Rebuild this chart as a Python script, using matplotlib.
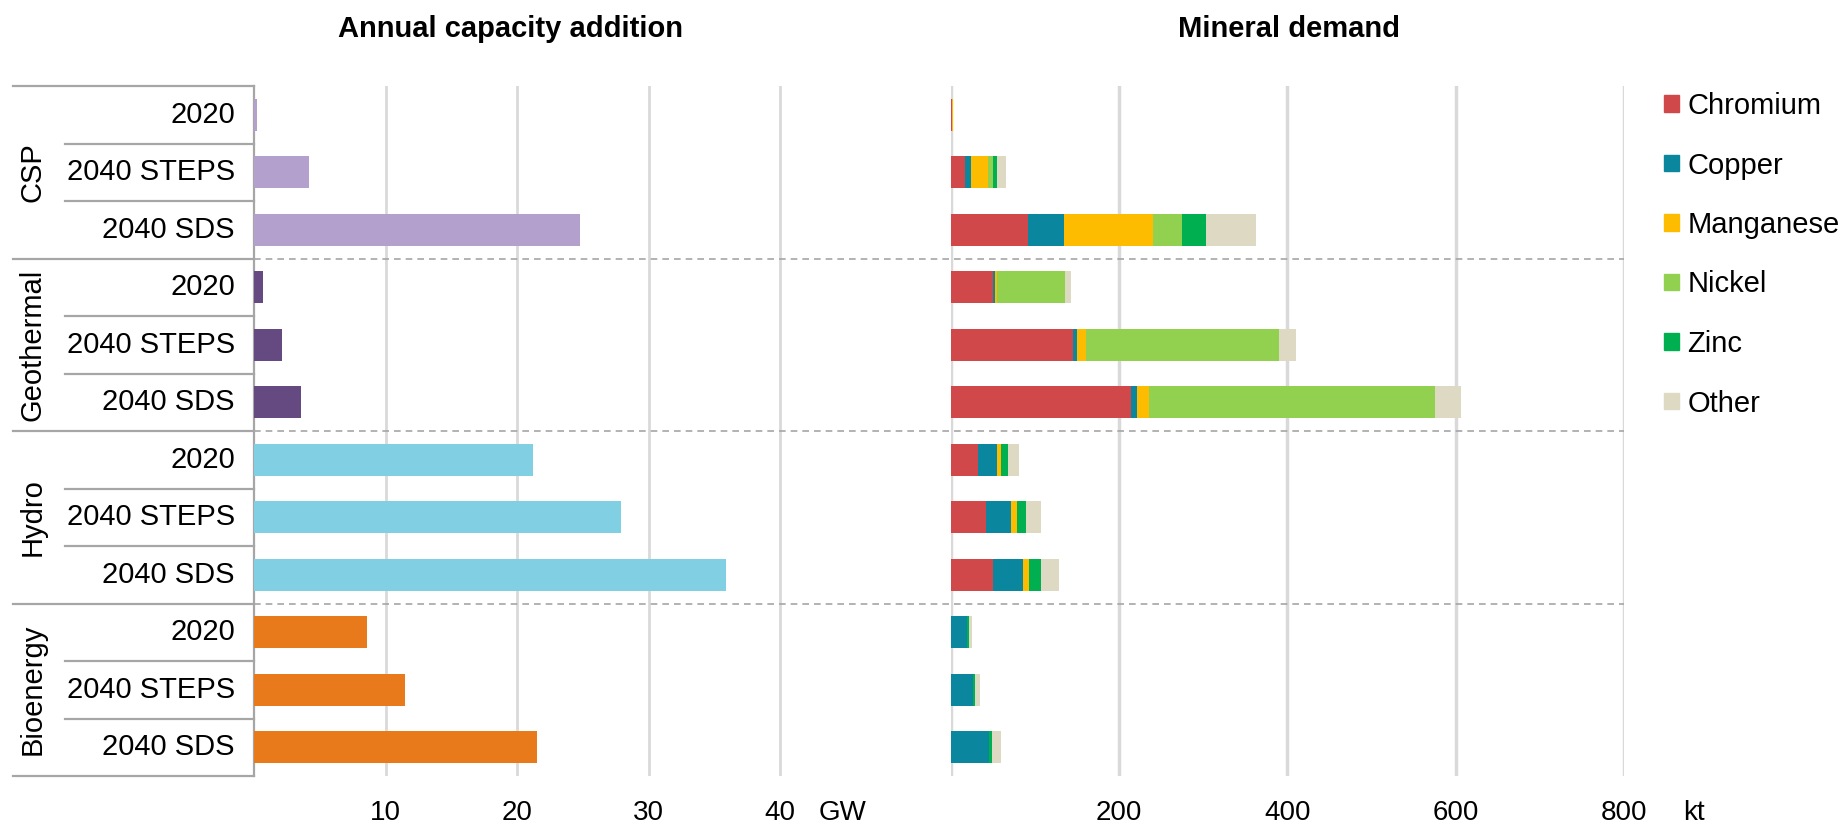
import numpy as np
import matplotlib.pyplot as plt
import matplotlib.transforms as mtransforms
from matplotlib.lines import Line2D
from matplotlib.patches import Patch

plt.rcParams['font.family'] = ['Liberation Sans', 'DejaVu Sans']

# data
groups = ["CSP", "Geothermal", "Hydro", "Bioenergy"]
cases = ["2020", "2040 STEPS", "2040 SDS"]
group_colors = ["#b3a0cc", "#654a82", "#80cfe2", "#e87a1c"]

capacity = [0.2, 4.2, 24.8,
            0.7, 2.1, 3.6,
            21.2, 27.9, 35.9,
            8.6, 11.5, 21.5]

minerals = ["Chromium", "Copper", "Manganese", "Nickel", "Zinc", "Other"]
mineral_colors = ["#d1484b", "#0a879e", "#fdbc00", "#92d050", "#00b050", "#ddd9c3"]
chromium = [1, 17, 92, 50, 145, 214, 32.5, 42.4, 50.7, 0, 0, 0]
copper = [0.5, 7.5, 42.4, 2.5, 5, 7.2, 22, 29.3, 34.9, 19.4, 26.5, 46]
manganese = [1.2, 19.8, 105.8, 3, 10.6, 14.8, 4.8, 6.7, 7.9, 0, 0, 0]
nickel = [0, 6, 34.5, 80, 230, 340, 0, 0, 0, 0, 0, 0]
zinc = [0, 5, 28.5, 0, 0, 0, 8.3, 10.7, 13.5, 2, 2, 3.2]
other = [0, 11, 59.4, 7.6, 20, 30, 13.9, 18.6, 21.8, 4.4, 5.9, 10.7]

gw_ticks = [10, 20, 30, 40]
kt_ticks = [200, 400, 600, 800]

W, H = 1843, 827
fig = plt.figure(figsize=(W / 100, H / 100), dpi=100)
ax1 = fig.add_axes([254 / W, 51 / H, 657.5 / W, 690 / H])
ax2 = fig.add_axes([950.7 / W, 51 / H, 673.3 / W, 690 / H])

rows = np.arange(len(capacity))
row_colors = [c for c in group_colors for _ in cases]
grid_c = "#d9d9d9"
line_c = "#a6a6a6"

ax1.barh(rows, capacity, height=0.55, color=row_colors, zorder=3)
ax1.set_xlim(0, 50)
for v in gw_ticks:
    ax1.axvline(v, color=grid_c, lw=2, zorder=0)

left = np.zeros(len(rows))
for name, vals, col in zip(minerals, [chromium, copper, manganese, nickel, zinc, other], mineral_colors):
    ax2.barh(rows, vals, left=left, height=0.55, color=col, zorder=3)
    left += np.array(vals)
ax2.set_xlim(0, 800)
for v in [0] + kt_ticks:
    ax2.axvline(v, color=grid_c, lw=2.5, zorder=0)

for ax in (ax1, ax2):
    ax.set_ylim(11.5, -0.5)
    ax.set_xticks([])
    ax.set_yticks([])
    for s in ax.spines.values():
        s.set_visible(False)
ax1.spines['left'].set_visible(True)
ax1.spines['left'].set_color(line_c)
ax1.spines['left'].set_linewidth(1.6)

# tick labels
lab_y = -37 / 690
for v in gw_ticks:
    ax1.text(v, lab_y, str(v), transform=ax1.get_xaxis_transform(), ha='center', va='center', fontsize=20)
ax1.text(44.75, lab_y, "GW", transform=ax1.get_xaxis_transform(), ha='center', va='center', fontsize=20)
for v in kt_ticks:
    ax2.text(v, lab_y, str(v), transform=ax2.get_xaxis_transform(), ha='center', va='center', fontsize=20)
ax2.text(883, lab_y, "kt", transform=ax2.get_xaxis_transform(), ha='center', va='center', fontsize=20)

# table on the left
trans = mtransforms.blended_transform_factory(fig.transFigure, ax1.transData)
n = len(cases)
for i in range(len(rows) + 1):
    y = i - 0.5
    x0 = 13 / W if i % n == 0 else 65 / W
    fig.add_artist(Line2D([x0, 254 / W], [y, y], transform=trans, color=line_c, lw=1.6))
for g in range(1, len(groups)):
    y = g * n - 0.5
    fig.add_artist(Line2D([254 / W, 1624 / W], [y, y], transform=trans, color=line_c, lw=1.2,
                          dashes=(4, 3)))
for i, r in enumerate(rows):
    fig.text(235 / W, r, cases[i % n], transform=trans, ha='right', va='center', fontsize=21)
for g, name in enumerate(groups):
    fig.text(33 / W, g * n + 1, name, transform=trans, ha='center', va='center', rotation=90, fontsize=21)

fig.text(510 / W, 1 - 29 / H, "Annual capacity addition", ha='center', va='center', fontsize=21, fontweight='bold')
fig.text(1289 / W, 1 - 29 / H, "Mineral demand", ha='center', va='center', fontsize=21, fontweight='bold')

handles = [Patch(color=c, label=m) for m, c in zip(minerals, mineral_colors)]
fig.legend(handles=handles, loc='upper left', bbox_to_anchor=(1664 / W, 1 - 92 / H), frameon=False,
           fontsize=21, handlelength=0.5, handleheight=0.5, handletextpad=0.3, labelspacing=1.08,
           borderpad=0, borderaxespad=0)

fig.savefig("out.png", dpi=100)
plt.close()
